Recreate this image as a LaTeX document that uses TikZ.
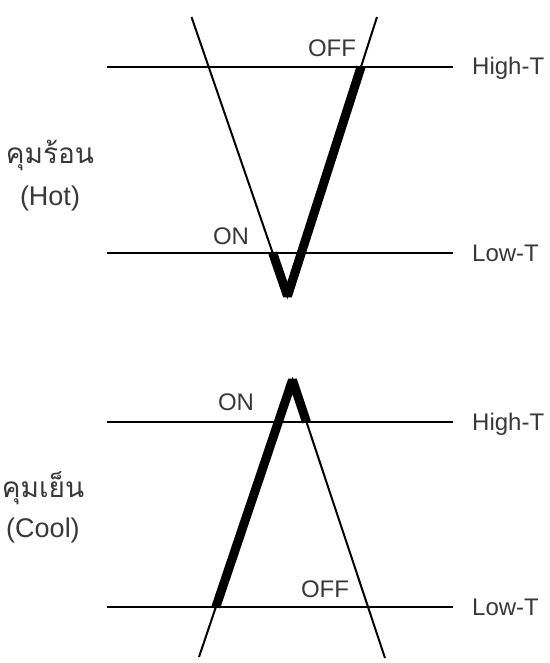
\documentclass[tikz,border=0pt]{standalone}
\usepackage{fontspec}
\setmainfont{Liberation Sans}
\newfontfamily\thaifont[Script=Thai]{Loma}
\usetikzlibrary{calc}

\begin{document}
\begin{tikzpicture}[x=1pt, y=-1pt,
  level/.style={line width=2.2pt},
  sensor/.style={line width=2pt},
  active/.style={line width=9pt, line join=bevel},
  lbl/.style={font=\fontsize{24}{28}\selectfont, text=black!78, inner sep=0pt},
  mode/.style={font=\fontsize{27}{32}\selectfont, text=black!78, inner sep=0pt},
  thmode/.style={font=\thaifont\fontsize{28}{32}\selectfont, text=black!78, inner sep=0pt}]
\useasboundingbox (0,0) rectangle (549,663);
% top: heating (Hot)
\coordinate (hotHighL) at (107,67);
\coordinate (hotHighR) at (453,67);
\coordinate (hotLowL) at (107,253);
\coordinate (hotLowR) at (453,253);
\coordinate (hotTopL) at (191.5,17);
\coordinate (hotTopR) at (377,17);
\coordinate (hotBot) at (287.5,296);
\coordinate (hotOn) at (intersection of hotTopL--hotBot and hotLowL--hotLowR);
\coordinate (hotOff) at (intersection of hotTopR--hotBot and hotHighL--hotHighR);
\draw[level] (hotHighL) -- (hotHighR);
\draw[level] (hotLowL) -- (hotLowR);
\draw[sensor] (hotTopL) -- (hotBot) -- (hotTopR);
\draw[active] (hotOn) -- (hotBot) -- (hotOff);
\node[lbl, anchor=base west] (hotHigh) at (472,75) {High-T};
\node[lbl, anchor=base west] (hotLow) at (472,261.5) {Low-T};
\node[lbl, anchor=base] (hotOffTxt) at (332,57) {OFF};
\node[lbl, anchor=base] (hotOnTxt) at (231,244) {ON};
\node[thmode, anchor=base] (hotTh) at (50,164) {คุมร้อน};
\node[mode, anchor=base] (hotEn) at (50,205) {(Hot)};
% bottom: cooling (Cool)
\begin{scope}
\coordinate (coolHighL) at (107,422);
\coordinate (coolHighR) at (453,422);
\coordinate (coolLowL) at (107,607);
\coordinate (coolLowR) at (453,607);
\coordinate (coolBotL) at (199,657);
\coordinate (coolBotR) at (385,658);
\coordinate (coolTop) at (292.5,380);
\coordinate (coolOn) at (intersection of coolBotL--coolTop and coolLowL--coolLowR);
\coordinate (coolOff) at (intersection of coolBotR--coolTop and coolHighL--coolHighR);
\draw[level] (coolHighL) -- (coolHighR);
\draw[level] (coolLowL) -- (coolLowR);
\draw[sensor] (coolBotL) -- (coolTop) -- (coolBotR);
\draw[active] (coolOn) -- (coolTop) -- (coolOff);
\node[lbl, anchor=base west] (coolHigh) at (472,430.5) {High-T};
\node[lbl, anchor=base west] (coolLow) at (472,615.5) {Low-T};
\node[lbl, anchor=base] (coolOnTxt) at (236,410) {ON};
\node[lbl, anchor=base] (coolOffTxt) at (325,597) {OFF};
\node[thmode, anchor=base] (coolTh) at (43,497) {คุมเย็น};
\node[mode, anchor=base] (coolEn) at (43,537) {(Cool)};
\end{scope}
\end{tikzpicture}
\end{document}
